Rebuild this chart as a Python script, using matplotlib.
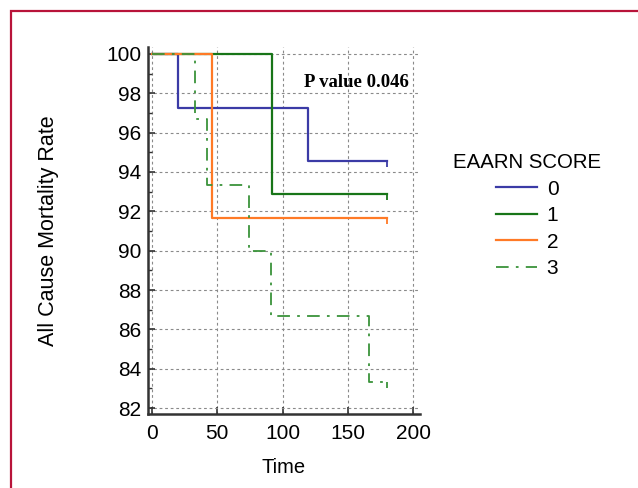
import numpy as np
import matplotlib
matplotlib.use("Agg")
import matplotlib.pyplot as plt
import matplotlib.patches as patches
from matplotlib.path import Path

plt.rcParams['font.family'] = ['Liberation Sans', 'DejaVu Sans']

# survival steps per EAARN score group
groups = ['0', '1', '2', '3']
t0 = [0, 20, 119, 180]
s0 = [100, 97.25, 94.55, 94.55]
t1 = [0, 92, 180]
s1 = [100, 92.86, 92.86]
t2 = [0, 46, 180]
s2 = [100, 91.67, 91.67]
t3 = [0, 33, 42, 74, 91, 166, 180]
s3 = [100, 96.67, 93.33, 90.0, 86.67, 83.33, 83.33]

xticks = [0, 50, 100, 150, 200]
yticks = [82, 84, 86, 88, 90, 92, 94, 96, 98, 100]
p_text = "P value 0.046"

fig = plt.figure(figsize=(6.38, 4.88), dpi=100)

# red frame around the panel
frame = patches.Rectangle((10.5 / 638, -0.1), 1.2, 1 - 11.5 / 488 + 0.1,
                          transform=fig.transFigure, fill=False,
                          edgecolor='#b8143a', linewidth=1.6)
fig.add_artist(frame)

ax = fig.add_axes([148 / 638, 1 - 414 / 488, (420 - 148) / 638, (414 - 47) / 488])

# censor mark: short drop below the last step
drop = Path([[0, 0], [0, -1]])

styles = [
    dict(color='#3b3ba6', lw=1.6, ls='-'),
    dict(color='#187518', lw=1.6, ls='-'),
    dict(color='#ff7a26', lw=1.6, ls='-'),
    dict(color='#3a933a', lw=1.3, ls=(0, (7, 4, 1.5, 4))),
]
series = [(t0, s0), (t1, s1), (t2, s2), (t3, s3)]

for (t, s), st, name in zip(series, styles, groups):
    ax.step(t, s, where='post', label=name, **st)
    ax.plot(t[-1], s[-1], marker=drop, markersize=8, color=st['color'],
            markeredgewidth=1.3, linestyle='none')

ax.set_xlim(-3, 205)
ax.set_ylim(81.7, 100.35)
ax.set_xticks(xticks)
ax.set_yticks(yticks)
ax.set_yticks(np.arange(83, 100, 2), minor=True)

ax.grid(True, which='major', color='#8a8a8a', linestyle=(0, (2.5, 2.5)), linewidth=0.8)
for side in ['top', 'right']:
    ax.spines[side].set_visible(False)
for side in ['left', 'bottom']:
    ax.spines[side].set_linewidth(1.8)
    ax.spines[side].set_color('#333333')

ax.tick_params(axis='both', which='major', direction='in', length=5, width=1.2,
               labelsize=15, colors='#333333', labelcolor='black')
ax.tick_params(axis='y', which='major', pad=5)
ax.tick_params(axis='x', which='major', pad=7)
ax.tick_params(axis='y', which='minor', direction='in', length=3, width=1, colors='#333333')

ax.set_xlabel('Time', fontsize=14.5, labelpad=11)
ax.set_ylabel('All Cause Mortality Rate', fontsize=15.5, labelpad=34)

ax.text(0.96, 0.902, p_text, transform=ax.transAxes, ha='right', va='center',
        fontsize=13.5, fontweight='bold', family='Liberation Serif')

leg = ax.legend(title='EAARN SCORE', loc='center', bbox_to_anchor=(0.826, 0.558),
                bbox_transform=fig.transFigure, frameon=False, fontsize=15,
                title_fontsize=14.7, handlelength=2.0, handletextpad=0.45,
                labelspacing=0.36)

fig.savefig('out.png', dpi=100)
